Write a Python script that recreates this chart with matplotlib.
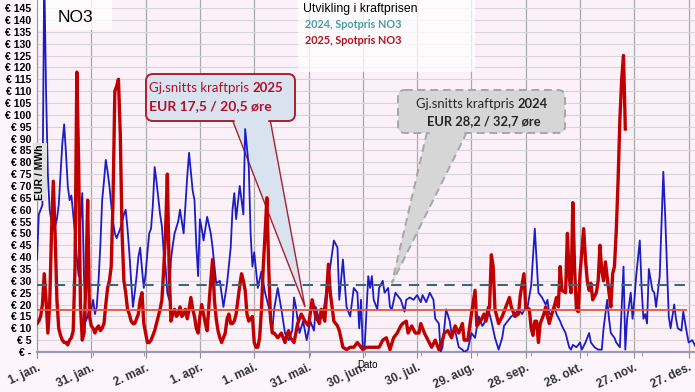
import matplotlib
matplotlib.use("Agg")
import matplotlib.pyplot as plt
import matplotlib.transforms as mtransforms
from matplotlib.patches import FancyBboxPatch, Polygon, Rectangle

W, H = 695, 392

# --- data ---------------------------------------------------------------
tick_days = [0, 30, 60, 90, 120, 150, 180, 210, 240, 270, 300, 330, 360]
tick_labels = ["1. jan.", "31. jan.", "2. mar.", "1. apr.", "1. mai.", "31. mai.",
               "30. jun.", "30. jul.", "29. aug.", "28. sep.", "28. okt.",
               "27. nov.", "27. des."]
month_start_days = [0, 31, 59, 90, 120, 151, 181, 212, 243, 273, 304, 334]

# 2024 spot price NO3, EUR/MWh (day of year, value)
spot_2024_days = [0, 1, 2, 3, 4, 5, 6, 7, 8, 9, 10, 11, 12, 13, 14, 15, 16, 17, 18, 19,
                  20, 21, 22, 23, 24, 25, 26, 27, 28, 29, 30, 31, 32, 33, 34, 35, 36, 37,
                  38, 39, 40, 41, 42, 43, 44, 45, 46, 47, 48, 49, 50, 51, 52, 53, 54, 55,
                  56, 57, 58, 59, 60, 61, 62, 63, 64, 65, 66, 67, 68, 69, 70, 71, 72, 73,
                  74, 75, 76, 78, 79, 80, 81, 82, 83, 84, 85, 86, 87, 88, 89, 90, 91, 92,
                  94, 96, 97, 99, 101, 103, 105, 107, 108, 109, 110, 112, 114, 115, 117,
                  118, 119, 120, 122, 124, 126, 128, 130, 131, 133, 135, 137, 139, 141,
                  142, 143, 145, 147, 149, 151, 153, 154, 156, 158, 160, 162, 164, 166,
                  167, 169, 171, 173, 175, 177, 178, 179, 180, 181, 183, 184, 185, 186,
                  188, 189, 191, 192, 194, 195, 196, 198, 200, 201, 203, 204, 206, 208,
                  210, 212, 213, 215, 217, 219, 220, 222, 223, 224, 226, 228, 229, 231,
                  233, 235, 236, 238, 240, 242, 244, 246, 247, 249, 251, 253, 255, 257,
                  258, 260, 262, 264, 266, 268, 270, 271, 273, 275, 277, 278, 279, 281,
                  282, 283, 284, 286, 287, 289, 290, 292, 294, 295, 296, 298, 300, 301,
                  303, 305, 306, 308, 310, 312, 313, 315, 316, 317, 319, 320, 322, 324,
                  325, 326, 328, 329, 330, 331, 333, 334, 335, 336, 337, 338, 340, 341,
                  342, 344, 346, 347, 349, 350, 352, 353, 354, 356, 357, 359, 360, 362,
                  364]
spot_2024_eur = [39, 58, 60, 62, 160, 110, 75, 60, 55, 57, 53, 56, 62, 75, 88, 96, 84, 70,
                 64, 66, 58, 50, 40, 32, 55, 67, 30, 13, 15, 20, 18, 22, 16, 19, 30, 45,
                 64, 72, 81, 76, 70, 62, 55, 50, 48, 50, 52, 55, 58, 60, 52, 42, 30, 19,
                 25, 32, 40, 44, 35, 27, 33, 42, 50, 52, 62, 78, 72, 65, 58, 53, 42, 36,
                 25, 22, 39, 45, 50, 55, 60, 55, 50, 62, 74, 84, 76, 68, 64, 45, 32, 56,
                 52, 47, 57, 50, 44, 29, 30, 19, 29, 44, 60, 67, 56, 70, 58, 94, 78, 50,
                 36, 42, 27, 34, 25, 19, 9, 18, 27, 18, 8, 5, 9, 23, 19, 8, 13, 5, 13, 9,
                 19, 13, 16, 26, 36, 47, 44, 22, 39, 19, 15, 27, 25, 10, 22, 1, 2, 32, 27,
                 32, 22, 18, 27, 30, 25, 27, 19, 18, 25, 23, 22, 17, 22, 23, 22, 24, 21,
                 24, 21, 25, 22, 14, 12, 0, 2, 18, 13, 8, 9, 2, 1, 0, 1, 8, 6, 15, 11, 12,
                 19, 13, 6, 1, 6, 11, 13, 15, 16, 18, 16, 19, 19, 28, 52, 25, 24, 23, 20,
                 22, 16, 16, 19, 16, 13, 11, 8, 2, 1, 3, 2, 4, 1, 4, 8, 4, 2, 1, 1, 10, 22,
                 14, 8, 6, 4, 2, 36, 1, 14, 25, 14, 22, 32, 47, 27, 14, 16, 12, 35, 26, 25,
                 19, 32, 76, 58, 15, 10, 20, 14, 10, 9, 17, 8, 4, 5, 2]

# 2025 spot price NO3, EUR/MWh
spot_2025_days = [0, 1, 2, 3, 4, 5, 6, 7, 8, 9, 10, 11, 12, 13, 14, 15, 16, 17, 18, 19,
                  20, 21, 22, 23, 24, 25, 26, 27, 28, 29, 30, 31, 32, 33, 34, 35, 36, 37,
                  38, 39, 40, 41, 42, 43, 44, 45, 46, 47, 48, 49, 50, 51, 52, 53, 54, 55,
                  56, 57, 58, 59, 60, 61, 62, 63, 64, 65, 66, 67, 68, 69, 70, 71, 72, 73,
                  74, 75, 76, 77, 78, 79, 80, 81, 82, 83, 84, 85, 86, 87, 88, 89, 90, 91,
                  92, 93, 94, 95, 96, 97, 98, 99, 100, 101, 102, 103, 104, 105, 106, 107,
                  108, 109, 110, 111, 112, 113, 114, 115, 116, 117, 118, 119, 120, 121,
                  122, 123, 124, 125, 126, 127, 128, 129, 130, 131, 132, 133, 134, 135,
                  136, 137, 138, 139, 140, 141, 142, 143, 144, 146, 148, 150, 152, 154,
                  156, 157, 159, 160, 161, 162, 164, 166, 167, 169, 171, 173, 175, 177,
                  179, 180, 182, 185, 189, 191, 193, 195, 197, 199, 201, 202, 204, 205,
                  207, 209, 211, 212, 214, 216, 218, 220, 222, 224, 225, 227, 229, 231,
                  233, 235, 236, 238, 240, 242, 243, 245, 247, 248, 250, 251, 252, 253,
                  255, 257, 259, 261, 262, 264, 266, 267, 269, 270, 272, 273, 274, 275,
                  276, 277, 278, 280, 281, 282, 283, 284, 286, 287, 288, 289, 290, 292,
                  293, 294, 295, 296, 297, 298, 299, 300, 302, 303, 304, 305, 306, 307,
                  309, 310, 311, 312, 313, 314, 316, 317, 318, 319, 320, 321, 322, 323,
                  324, 325]
spot_2025_eur = [12, 13, 15, 20, 33, 22, 8, 20, 50, 72, 50, 22, 10, 7, 5, 4, 4, 3, 5, 6,
                 9, 36, 118, 80, 20, 5, 8, 30, 64, 15, 11, 10, 8, 10, 11, 9, 10, 12, 20,
                 27, 30, 36, 64, 110, 112, 115, 92, 50, 30, 25, 18, 16, 13, 12, 12, 14,
                 16, 22, 25, 12, 8, 4, 4, 5, 7, 9, 12, 15, 18, 22, 35, 50, 75, 35, 13,
                 16, 18, 15, 16, 19, 15, 16, 18, 14, 18, 23, 18, 15, 10, 8, 15, 20, 16,
                 12, 9, 20, 30, 39, 22, 14, 9, 6, 4, 6, 8, 14, 16, 12, 12, 13, 16, 22, 28,
                 33, 30, 26, 16, 13, 14, 15, 4, 2, 2, 6, 18, 36, 50, 65, 36, 14, 8, 8, 7,
                 6, 7, 8, 6, 4, 7, 9, 6, 5, 4, 8, 12, 16, 13, 11, 22, 15, 12, 18, 13, 25,
                 37, 25, 13, 11, 9, 2, 1, 2, 2, 4, 2, 1, 2, 2, 2, 5, 6, 1, 6, 8, 11, 12,
                 13, 8, 11, 8, 8, 12, 8, 5, 2, 5, 1, 5, 8, 9, 6, 11, 8, 12, 5, 5, 16, 26,
                 11, 13, 16, 13, 19, 41, 36, 18, 12, 15, 19, 23, 19, 15, 16, 24, 33, 19,
                 18, 10, 7, 13, 13, 4, 12, 16, 19, 15, 12, 15, 20, 23, 19, 36, 26, 25, 50,
                 32, 25, 63, 35, 18, 17, 33, 52, 39, 30, 26, 29, 22, 25, 30, 45, 34, 30,
                 38, 25, 19, 33, 36, 51, 72, 98, 115, 125, 94]

avg_2024 = 28.2
avg_2025 = 17.5

# --- figure -------------------------------------------------------------
fig = plt.figure(figsize=(W / 100, H / 100), dpi=100, facecolor="#fcf5fa")
ax = fig.add_axes([37 / W, 40 / H, (W - 37) / W, 352 / H], facecolor="#fcf1f9")

# pixel coords, origin at top-left of the image
pix = mtransforms.Affine2D().scale(1 / W, -1 / H).translate(0, 1) + fig.transFigure

ax.set_xlim(0, 363.5)
ax.set_ylim(0, 148.4)

ax.set_yticks(range(0, 150, 5))
ax.set_yticklabels(["€ -"] + [f"€ {v}" for v in range(5, 150, 5)],
                   fontsize=7.6, fontweight="bold", family="Liberation Sans")
ax.set_xticks(tick_days)
ax.set_xticklabels(tick_labels, rotation=25, ha="right", rotation_mode="anchor",
                   fontsize=8.5, fontweight="bold", family="Liberation Sans",
                   color="#333333")
ax.set_xticks(month_start_days, minor=True)
ax.tick_params(axis="x", which="major", length=4, color="#8a8aa0", pad=3)
ax.tick_params(axis="x", which="minor", length=3, color="#8a8aa0")
ax.tick_params(axis="y", length=0, pad=4)

ax.grid(axis="y", color="#d6d6d6", linewidth=0.8, zorder=0)
ax.grid(axis="x", which="major", color="#a9a9a9", linewidth=0.9, zorder=0)
ax.set_axisbelow(True)
for side in ("top", "right"):
    ax.spines[side].set_visible(False)
ax.spines["left"].set_color("#9a9a9a")
ax.spines["bottom"].set_color("#9a9ab4")
ax.spines["bottom"].set_linewidth(1.6)

# white boxes behind the titles
ax.add_patch(Rectangle((38, 0), 74, 30, transform=pix, fc="white", alpha=0.75,
                       ec="none", zorder=1))
ax.add_patch(Rectangle((298, 0), 177, 72, transform=pix, fc="white", alpha=0.75,
                       ec="none", zorder=1))

# callout tails (under the lines)
ax.add_patch(Polygon([(232, 119), (305, 307), (270, 119)], closed=True, transform=pix,
                     fc="#d9e3ef", ec="#a8202e", lw=1.0, zorder=3))
ax.add_patch(Polygon([(427, 132), (392, 283), (467, 132)], closed=True, transform=pix,
                     fc="#d6d6d6", ec="#a6a6a6", lw=1.4, ls=(0, (4, 2.5)), zorder=3))

ax.plot(spot_2024_days, spot_2024_eur, color="#1c1cc4", lw=1.3, zorder=4)
ax.plot(spot_2025_days, spot_2025_eur, color="#c00000", lw=2.4, zorder=5,
        solid_joinstyle="round")
ax.hlines(avg_2024, 0, 361, color="#3d6a72", lw=1.5, linestyles=(0, (5, 3.5)), zorder=6)
ax.hlines(avg_2025, 0, 359, color="#e2553a", lw=1.3, zorder=6)

# callout boxes
ax.add_patch(FancyBboxPatch((146, 74), 149, 47, transform=pix,
                            boxstyle="round,pad=0,rounding_size=7",
                            fc="#d9e3ef", ec="#a8202e", lw=1.4, zorder=7))
ax.add_patch(Polygon([(234, 118), (269, 118), (268, 122), (235, 122)], closed=True,
                     transform=pix, fc="#d9e3ef", ec="none", zorder=7.5))
ax.add_patch(FancyBboxPatch((398, 90), 167, 43, transform=pix,
                            boxstyle="round,pad=0,rounding_size=7",
                            fc="#d6d6d6", ec="#a6a6a6", lw=1.4, ls=(0, (4, 2.5)),
                            zorder=7))
ax.add_patch(Polygon([(429, 129), (465, 129), (464, 134), (430, 134)], closed=True,
                     transform=pix, fc="#d6d6d6", ec="none", zorder=7.5))

red_txt = "#b0102a"
t = ax.text(149, 92, "Gj.snitts kraftpris ", transform=pix, fontsize=9.5, family="Lato",
            color=red_txt, va="baseline", zorder=8)
ax.annotate("2025", xy=(1, 0), xycoords=t, va="bottom", ha="left", fontsize=9.5,
            family="Lato", fontweight="bold", color=red_txt, zorder=8)
ax.text(149, 110, "EUR 17,5 / 20,5 øre", transform=pix, fontsize=10, family="Lato",
        fontweight="bold", color=red_txt, va="baseline", zorder=8)

t = ax.text(416, 108, "Gj.snitts kraftpris ", transform=pix, fontsize=9.4, family="Lato",
            color="#262626", va="baseline", zorder=8)
ax.annotate("2024", xy=(1, 0), xycoords=t, va="bottom", ha="left", fontsize=9.4,
            family="Lato", fontweight="bold", color="#262626", zorder=8)
ax.text(427, 125, "EUR 28,2 / 32,7 øre", transform=pix, fontsize=9.3, family="Lato",
        fontweight="bold", color="#262626", va="baseline", zorder=8)

# titles and legend text
fig.text(58 / W, 1 - 18 / H, "NO3", fontsize=12.5, family="Liberation Sans",
         va="center", ha="left")
fig.text(303 / W, 1 - 9 / H, "Utvikling i kraftprisen", fontsize=8.8,
         family="Liberation Sans", va="center", ha="left")
fig.text(305 / W, 1 - 25 / H, "2024, Spotpris NO3", fontsize=7.8, family="Lato",
         fontweight="bold", color="#4a9ba8", va="center", ha="left")
fig.text(305 / W, 1 - 41 / H, "2025, Spotpris NO3", fontsize=7.8, family="Lato",
         fontweight="bold", color="#b01020", va="center", ha="left")
fig.text(40 / W, 1 - 172 / H, "EUR / MWh", rotation=90, fontsize=7.5,
         family="Liberation Sans", fontweight="bold", va="center", ha="center",
         bbox=dict(boxstyle="square,pad=0.15", fc="#e0e0e0", ec="none"))
fig.text(367 / W, 1 - 365 / H, "Dato", fontsize=7, family="Liberation Sans",
         va="center", ha="center")

fig.savefig("out.png", dpi=100, facecolor=fig.get_facecolor())
